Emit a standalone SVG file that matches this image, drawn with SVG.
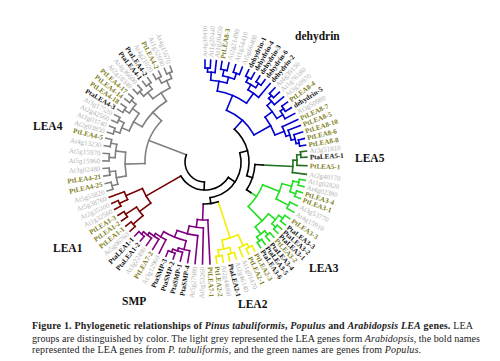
<svg xmlns="http://www.w3.org/2000/svg" width="500" height="361" viewBox="0 0 500 361">
<style>
.t line,.t circle{fill:none;stroke-width:1.6;stroke-linecap:square}
.bk{stroke:#000}.gy{stroke:#808080}.bl{stroke:#0000d0}.dg{stroke:#1f6f1f}.gn{stroke:#22e022}.yl{stroke:#f0f000}.pu{stroke:#800080}.dr{stroke:#780000}
text{font-family:"Liberation Serif","Times New Roman",serif}
.lb{font-size:7px}
.g{fill:#b4b4b4}.k{fill:#111;font-weight:bold}.o{fill:#80801c;font-weight:bold}.L{text-anchor:end}
.grp{font-size:11.5px;font-weight:bold;fill:#111}
.cap{font-size:10px;fill:#222}
</style>
<rect width="500" height="361" fill="#fff"/>
<g id="connectors" class="t" transform="translate(205 162)">
<g class="bl">
<circle r="94" pathLength="360" stroke-dasharray="3.2 400" transform="rotate(-90)"/>
<line x1="94" x2="102" transform="rotate(-90)"/><line x1="94" x2="102" transform="rotate(-86.8)"/>
<circle r="90" pathLength="360" stroke-dasharray="4.8 400" transform="rotate(-88.4)"/>
<line x1="90" x2="94" transform="rotate(-88.4)"/><line x1="90" x2="102" transform="rotate(-83.6)"/>
<circle r="94" pathLength="360" stroke-dasharray="4 400" transform="rotate(-80.4)"/>
<line x1="94" x2="102" transform="rotate(-80.4)"/><line x1="94" x2="102" transform="rotate(-76.4)"/>
<circle r="94" pathLength="360" stroke-dasharray="4 400" transform="rotate(-72.5)"/>
<line x1="94" x2="102" transform="rotate(-72.5)"/><line x1="94" x2="102" transform="rotate(-68.5)"/>
<circle r="88" pathLength="360" stroke-dasharray="7.9 400" transform="rotate(-78.4)"/>
<line x1="88" x2="94" transform="rotate(-78.4)"/><line x1="88" x2="94" transform="rotate(-70.5)"/>
<circle r="82" pathLength="360" stroke-dasharray="11.55 400" transform="rotate(-86)"/>
<line x1="82" x2="90" transform="rotate(-86)"/><line x1="82" x2="88" transform="rotate(-74.45)"/>
<circle r="95" pathLength="360" stroke-dasharray="3.6 400" transform="rotate(-64.6)"/>
<line x1="95" x2="102" transform="rotate(-64.6)"/><line x1="95" x2="102" transform="rotate(-61)"/>
<circle r="95" pathLength="360" stroke-dasharray="3.6 400" transform="rotate(-57.5)"/>
<line x1="95" x2="102" transform="rotate(-57.5)"/><line x1="95" x2="102" transform="rotate(-53.9)"/>
<circle r="90" pathLength="360" stroke-dasharray="7.1 400" transform="rotate(-62.8)"/>
<line x1="90" x2="95" transform="rotate(-62.8)"/><line x1="90" x2="95" transform="rotate(-55.7)"/>
<circle r="84" pathLength="360" stroke-dasharray="8.95 400" transform="rotate(-59.25)"/>
<line x1="84" x2="90" transform="rotate(-59.25)"/><line x1="84" x2="102" transform="rotate(-50.3)"/>
<circle r="72" pathLength="360" stroke-dasharray="25.4 400" transform="rotate(-80.2)"/>
<line x1="72" x2="82" transform="rotate(-80.2)"/><line x1="72" x2="84" transform="rotate(-54.8)"/>
<circle r="94" pathLength="360" stroke-dasharray="3.5 400" transform="rotate(-46.7)"/>
<line x1="94" x2="102" transform="rotate(-46.7)"/><line x1="94" x2="102" transform="rotate(-43.2)"/>
<circle r="90" pathLength="360" stroke-dasharray="5.35 400" transform="rotate(-44.95)"/>
<line x1="90" x2="94" transform="rotate(-44.95)"/><line x1="90" x2="102" transform="rotate(-39.6)"/>
<circle r="95" pathLength="360" stroke-dasharray="3.8 400" transform="rotate(-36)"/>
<line x1="95" x2="102" transform="rotate(-36)"/><line x1="95" x2="102" transform="rotate(-32.2)"/>
<circle r="91" pathLength="360" stroke-dasharray="5.7 400" transform="rotate(-34.1)"/>
<line x1="91" x2="95" transform="rotate(-34.1)"/><line x1="91" x2="102" transform="rotate(-28.4)"/>
<circle r="84" pathLength="360" stroke-dasharray="11.05 400" transform="rotate(-42.3)"/>
<line x1="84" x2="90" transform="rotate(-42.3)"/><line x1="84" x2="91" transform="rotate(-31.25)"/>
<circle r="96" pathLength="360" stroke-dasharray="3.8 400" transform="rotate(-13.3)"/>
<line x1="96" x2="102" transform="rotate(-13.3)"/><line x1="96" x2="102" transform="rotate(-9.5)"/>
<circle r="93" pathLength="360" stroke-dasharray="5.7 400" transform="rotate(-17.1)"/>
<line x1="93" x2="102" transform="rotate(-17.1)"/><line x1="93" x2="96" transform="rotate(-11.4)"/>
<circle r="89" pathLength="360" stroke-dasharray="6.65 400" transform="rotate(-20.9)"/>
<line x1="89" x2="102" transform="rotate(-20.9)"/><line x1="89" x2="93" transform="rotate(-14.25)"/>
<circle r="85" pathLength="360" stroke-dasharray="7 400" transform="rotate(-24.6)"/>
<line x1="85" x2="102" transform="rotate(-24.6)"/><line x1="85" x2="89" transform="rotate(-17.6)"/>
<circle r="75" pathLength="360" stroke-dasharray="15.7 400" transform="rotate(-36.8)"/>
<line x1="75" x2="84" transform="rotate(-36.8)"/><line x1="75" x2="85" transform="rotate(-21.1)"/>
<circle r="56" pathLength="360" stroke-dasharray="38.55 400" transform="rotate(-67.5)"/>
<line x1="56" x2="72" transform="rotate(-67.5)"/><line x1="56" x2="75" transform="rotate(-28.95)"/>
<line x1="44" x2="56" transform="rotate(-48.2)"/>
</g>
<g class="dg">
<circle r="96" pathLength="360" stroke-dasharray="3.4 400" transform="rotate(-6.1)"/>
<line x1="96" x2="102" transform="rotate(-6.1)"/><line x1="96" x2="102" transform="rotate(-2.7)"/>
<circle r="92" pathLength="360" stroke-dasharray="6.5 400" transform="rotate(-4.4)"/>
<line x1="92" x2="96" transform="rotate(-4.4)"/><line x1="92" x2="102" transform="rotate(2.1)"/>
<circle r="88" pathLength="360" stroke-dasharray="8.05 400" transform="rotate(-1.15)"/>
<line x1="88" x2="92" transform="rotate(-1.15)"/><line x1="88" x2="102" transform="rotate(6.9)"/>
<line x1="58" x2="88" transform="rotate(2.9)"/>
</g>
<g class="gn">
<circle r="96" pathLength="360" stroke-dasharray="3.6 400" transform="rotate(10.4)"/>
<line x1="96" x2="102" transform="rotate(10.4)"/><line x1="96" x2="102" transform="rotate(14)"/>
<circle r="96" pathLength="360" stroke-dasharray="3.5 400" transform="rotate(17.5)"/>
<line x1="96" x2="102" transform="rotate(17.5)"/><line x1="96" x2="102" transform="rotate(21)"/>
<circle r="90" pathLength="360" stroke-dasharray="7.05 400" transform="rotate(12.2)"/>
<line x1="90" x2="96" transform="rotate(12.2)"/><line x1="90" x2="96" transform="rotate(19.25)"/>
<circle r="94" pathLength="360" stroke-dasharray="4.2 400" transform="rotate(25.3)"/>
<line x1="94" x2="102" transform="rotate(25.3)"/><line x1="94" x2="102" transform="rotate(29.5)"/>
<circle r="80" pathLength="360" stroke-dasharray="11.7 400" transform="rotate(15.7)"/>
<line x1="80" x2="90" transform="rotate(15.7)"/><line x1="80" x2="94" transform="rotate(27.4)"/>
<circle r="96" pathLength="360" stroke-dasharray="4.2 400" transform="rotate(33.8)"/>
<line x1="96" x2="102" transform="rotate(33.8)"/><line x1="96" x2="102" transform="rotate(38)"/>
<circle r="96" pathLength="360" stroke-dasharray="3.1 400" transform="rotate(41.2)"/>
<line x1="96" x2="102" transform="rotate(41.2)"/><line x1="96" x2="102" transform="rotate(44.3)"/>
<circle r="91" pathLength="360" stroke-dasharray="6.85 400" transform="rotate(35.9)"/>
<line x1="91" x2="96" transform="rotate(35.9)"/><line x1="91" x2="96" transform="rotate(42.75)"/>
<circle r="96" pathLength="360" stroke-dasharray="3.2 400" transform="rotate(47.5)"/>
<line x1="96" x2="102" transform="rotate(47.5)"/><line x1="96" x2="102" transform="rotate(50.7)"/>
<circle r="96" pathLength="360" stroke-dasharray="3.2 400" transform="rotate(53.8)"/>
<line x1="96" x2="102" transform="rotate(53.8)"/><line x1="96" x2="102" transform="rotate(57)"/>
<circle r="91" pathLength="360" stroke-dasharray="6.3 400" transform="rotate(49.1)"/>
<line x1="91" x2="96" transform="rotate(49.1)"/><line x1="91" x2="96" transform="rotate(55.4)"/>
<circle r="82" pathLength="360" stroke-dasharray="12.95 400" transform="rotate(39.3)"/>
<line x1="82" x2="91" transform="rotate(39.3)"/><line x1="82" x2="91" transform="rotate(52.25)"/>
<circle r="62" pathLength="360" stroke-dasharray="24.25 400" transform="rotate(21.55)"/>
<line x1="62" x2="80" transform="rotate(21.55)"/><line x1="62" x2="82" transform="rotate(45.8)"/>
<line x1="55" x2="62" transform="rotate(33.7)"/>
</g>
<g class="yl">
<circle r="96" pathLength="360" stroke-dasharray="3.8 400" transform="rotate(60.8)"/>
<line x1="96" x2="102" transform="rotate(60.8)"/><line x1="96" x2="102" transform="rotate(64.6)"/>
<circle r="92" pathLength="360" stroke-dasharray="5.6 400" transform="rotate(62.7)"/>
<line x1="92" x2="96" transform="rotate(62.7)"/><line x1="92" x2="102" transform="rotate(68.3)"/>
<circle r="95" pathLength="360" stroke-dasharray="3.8 400" transform="rotate(72.1)"/>
<line x1="95" x2="102" transform="rotate(72.1)"/><line x1="95" x2="102" transform="rotate(75.9)"/>
<circle r="95" pathLength="360" stroke-dasharray="3.7 400" transform="rotate(79.7)"/>
<line x1="95" x2="102" transform="rotate(79.7)"/><line x1="95" x2="102" transform="rotate(83.4)"/>
<circle r="89" pathLength="360" stroke-dasharray="7.55 400" transform="rotate(74)"/>
<line x1="89" x2="95" transform="rotate(74)"/><line x1="89" x2="95" transform="rotate(81.55)"/>
<circle r="80" pathLength="360" stroke-dasharray="12.3 400" transform="rotate(65.5)"/>
<line x1="80" x2="92" transform="rotate(65.5)"/><line x1="80" x2="89" transform="rotate(77.8)"/>
<line x1="42" x2="80" transform="rotate(71.65)"/>
</g>
<g class="pu">
<circle r="96" pathLength="360" stroke-dasharray="4.2 400" transform="rotate(129.3)"/>
<line x1="96" x2="102" transform="rotate(129.3)"/><line x1="96" x2="102" transform="rotate(133.5)"/>
<circle r="93" pathLength="360" stroke-dasharray="6.3 400" transform="rotate(125.1)"/>
<line x1="93" x2="102" transform="rotate(125.1)"/><line x1="93" x2="96" transform="rotate(131.4)"/>
<circle r="90" pathLength="360" stroke-dasharray="7.35 400" transform="rotate(120.9)"/>
<line x1="90" x2="102" transform="rotate(120.9)"/><line x1="90" x2="93" transform="rotate(128.25)"/>
<circle r="87" pathLength="360" stroke-dasharray="7.9 400" transform="rotate(116.7)"/>
<line x1="87" x2="102" transform="rotate(116.7)"/><line x1="87" x2="90" transform="rotate(124.6)"/>
<circle r="96" pathLength="360" stroke-dasharray="4.3 400" transform="rotate(108.2)"/>
<line x1="96" x2="102" transform="rotate(108.2)"/><line x1="96" x2="102" transform="rotate(112.5)"/>
<circle r="93" pathLength="360" stroke-dasharray="6.35 400" transform="rotate(104)"/>
<line x1="93" x2="102" transform="rotate(104)"/><line x1="93" x2="96" transform="rotate(110.35)"/>
<circle r="90" pathLength="360" stroke-dasharray="7.4 400" transform="rotate(99.8)"/>
<line x1="90" x2="102" transform="rotate(99.8)"/><line x1="90" x2="93" transform="rotate(107.2)"/>
<circle r="81" pathLength="360" stroke-dasharray="17.15 400" transform="rotate(103.5)"/>
<line x1="81" x2="90" transform="rotate(103.5)"/><line x1="81" x2="87" transform="rotate(120.65)"/>
<circle r="74" pathLength="360" stroke-dasharray="16.5 400" transform="rotate(95.6)"/>
<line x1="74" x2="102" transform="rotate(95.6)"/><line x1="74" x2="81" transform="rotate(112.1)"/>
<circle r="66" pathLength="360" stroke-dasharray="12.45 400" transform="rotate(91.4)"/>
<line x1="66" x2="102" transform="rotate(91.4)"/><line x1="66" x2="74" transform="rotate(103.85)"/>
<circle r="58" pathLength="360" stroke-dasharray="10.4 400" transform="rotate(87.2)"/>
<line x1="58" x2="102" transform="rotate(87.2)"/><line x1="58" x2="66" transform="rotate(97.6)"/>
<line x1="42" x2="58" transform="rotate(92.4)"/>
</g>
<g class="dr">
<circle r="95" pathLength="360" stroke-dasharray="3.7 400" transform="rotate(137.3)"/>
<line x1="95" x2="102" transform="rotate(137.3)"/><line x1="95" x2="102" transform="rotate(141)"/>
<circle r="95" pathLength="360" stroke-dasharray="3.7 400" transform="rotate(144.8)"/>
<line x1="95" x2="102" transform="rotate(144.8)"/><line x1="95" x2="102" transform="rotate(148.5)"/>
<circle r="82" pathLength="360" stroke-dasharray="7.5 400" transform="rotate(139.15)"/>
<line x1="82" x2="95" transform="rotate(139.15)"/><line x1="82" x2="95" transform="rotate(146.65)"/>
<circle r="95" pathLength="360" stroke-dasharray="3.7 400" transform="rotate(152.3)"/>
<line x1="95" x2="102" transform="rotate(152.3)"/><line x1="95" x2="102" transform="rotate(156)"/>
<circle r="86" pathLength="360" stroke-dasharray="5.65 400" transform="rotate(154.15)"/>
<line x1="86" x2="95" transform="rotate(154.15)"/><line x1="86" x2="102" transform="rotate(159.8)"/>
<circle r="68" pathLength="360" stroke-dasharray="14.1 400" transform="rotate(142.9)"/>
<line x1="68" x2="82" transform="rotate(142.9)"/><line x1="68" x2="86" transform="rotate(157)"/>
<line x1="28" x2="68" transform="rotate(150)"/>
</g>
<g class="gy">
<circle r="96" pathLength="360" stroke-dasharray="4.3 400" transform="rotate(163.5)"/>
<line x1="96" x2="102" transform="rotate(163.5)"/><line x1="96" x2="102" transform="rotate(167.8)"/>
<circle r="96" pathLength="360" stroke-dasharray="4.3 400" transform="rotate(172.1)"/>
<line x1="96" x2="102" transform="rotate(172.1)"/><line x1="96" x2="102" transform="rotate(176.4)"/>
<circle r="90" pathLength="360" stroke-dasharray="8.6 400" transform="rotate(165.65)"/>
<line x1="90" x2="96" transform="rotate(165.65)"/><line x1="90" x2="96" transform="rotate(174.25)"/>
<circle r="96" pathLength="360" stroke-dasharray="4.3 400" transform="rotate(180.6)"/>
<line x1="96" x2="102" transform="rotate(180.6)"/><line x1="96" x2="102" transform="rotate(184.9)"/>
<circle r="96" pathLength="360" stroke-dasharray="4.3 400" transform="rotate(189.2)"/>
<line x1="96" x2="102" transform="rotate(189.2)"/><line x1="96" x2="102" transform="rotate(193.5)"/>
<circle r="90" pathLength="360" stroke-dasharray="8.6 400" transform="rotate(182.75)"/>
<line x1="90" x2="96" transform="rotate(182.75)"/><line x1="90" x2="96" transform="rotate(191.35)"/>
<circle r="80" pathLength="360" stroke-dasharray="17.1 400" transform="rotate(169.95)"/>
<line x1="80" x2="90" transform="rotate(169.95)"/><line x1="80" x2="90" transform="rotate(187.05)"/>
<circle r="96" pathLength="360" stroke-dasharray="3.6 400" transform="rotate(197)"/>
<line x1="96" x2="102" transform="rotate(197)"/><line x1="96" x2="102" transform="rotate(200.6)"/>
<circle r="96" pathLength="360" stroke-dasharray="3.5 400" transform="rotate(204.1)"/>
<line x1="96" x2="102" transform="rotate(204.1)"/><line x1="96" x2="102" transform="rotate(207.6)"/>
<circle r="90" pathLength="360" stroke-dasharray="7.05 400" transform="rotate(198.8)"/>
<line x1="90" x2="96" transform="rotate(198.8)"/><line x1="90" x2="96" transform="rotate(205.85)"/>
<circle r="96" pathLength="360" stroke-dasharray="3.6 400" transform="rotate(211.1)"/>
<line x1="96" x2="102" transform="rotate(211.1)"/><line x1="96" x2="102" transform="rotate(214.7)"/>
<circle r="96" pathLength="360" stroke-dasharray="3.5 400" transform="rotate(218.2)"/>
<line x1="96" x2="102" transform="rotate(218.2)"/><line x1="96" x2="102" transform="rotate(221.7)"/>
<circle r="90" pathLength="360" stroke-dasharray="7.05 400" transform="rotate(212.9)"/>
<line x1="90" x2="96" transform="rotate(212.9)"/><line x1="90" x2="96" transform="rotate(219.95)"/>
<circle r="82" pathLength="360" stroke-dasharray="14.1 400" transform="rotate(202.3)"/>
<line x1="82" x2="90" transform="rotate(202.3)"/><line x1="82" x2="90" transform="rotate(216.4)"/>
<circle r="96" pathLength="360" stroke-dasharray="3.5 400" transform="rotate(225.3)"/>
<line x1="96" x2="102" transform="rotate(225.3)"/><line x1="96" x2="102" transform="rotate(228.8)"/>
<circle r="96" pathLength="360" stroke-dasharray="3.5 400" transform="rotate(232.3)"/>
<line x1="96" x2="102" transform="rotate(232.3)"/><line x1="96" x2="102" transform="rotate(235.8)"/>
<circle r="90" pathLength="360" stroke-dasharray="7 400" transform="rotate(227.05)"/>
<line x1="90" x2="96" transform="rotate(227.05)"/><line x1="90" x2="96" transform="rotate(234.05)"/>
<circle r="96" pathLength="360" stroke-dasharray="3.5 400" transform="rotate(239.4)"/>
<line x1="96" x2="102" transform="rotate(239.4)"/><line x1="96" x2="102" transform="rotate(242.9)"/>
<circle r="96" pathLength="360" stroke-dasharray="3.5 400" transform="rotate(246.5)"/>
<line x1="96" x2="102" transform="rotate(246.5)"/><line x1="96" x2="102" transform="rotate(250)"/>
<circle r="90" pathLength="360" stroke-dasharray="7.1 400" transform="rotate(241.15)"/>
<line x1="90" x2="96" transform="rotate(241.15)"/><line x1="90" x2="96" transform="rotate(248.25)"/>
<circle r="82" pathLength="360" stroke-dasharray="14.15 400" transform="rotate(230.55)"/>
<line x1="82" x2="90" transform="rotate(230.55)"/><line x1="82" x2="90" transform="rotate(244.7)"/>
<circle r="72" pathLength="360" stroke-dasharray="28.25 400" transform="rotate(209.35)"/>
<line x1="72" x2="82" transform="rotate(209.35)"/><line x1="72" x2="82" transform="rotate(237.6)"/>
<circle r="60" pathLength="360" stroke-dasharray="45 400" transform="rotate(178.5)"/>
<line x1="60" x2="80" transform="rotate(178.5)"/><line x1="60" x2="72" transform="rotate(223.5)"/>
<line x1="20" x2="60" transform="rotate(201)"/>
</g>
<g class="bk">
<circle r="42" pathLength="360" stroke-dasharray="20.75 400" transform="rotate(71.65)"/>
<circle r="50" pathLength="360" stroke-dasharray="30.8 400" transform="rotate(2.9)"/>
<line x1="50" x2="58" transform="rotate(2.9)"/><line x1="50" x2="55" transform="rotate(33.7)"/>
<circle r="44" pathLength="360" stroke-dasharray="66.5 400" transform="rotate(-48.2)"/>
<line x1="44" x2="50" transform="rotate(18.3)"/>
<circle r="36" pathLength="360" stroke-dasharray="96.95 400" transform="rotate(-14.95)"/>
<line x1="36" x2="42" transform="rotate(82)"/><line x1="36" x2="44" transform="rotate(-14.95)"/>
<circle r="28" pathLength="360" stroke-dasharray="116.5 400" transform="rotate(33.5)"/>
<line x1="28" x2="36" transform="rotate(33.5)"/>
<circle r="20" pathLength="360" stroke-dasharray="109.25 400" transform="rotate(91.75)"/>
<line x1="20" x2="28" transform="rotate(91.75)"/>
</g>
</g>
<g id="leaves" class="lb" transform="translate(205 162)">
<g id="At4g38410" class="g"><text transform="rotate(-90)" x="105" dy=".35em">At4g38410</text></g>
<g id="At1g20440" class="g"><text transform="rotate(-86.8)" x="105" dy=".35em">At1g20440</text></g>
<g id="At1g20450" class="g"><text transform="rotate(-83.6)" x="105" dy=".35em">At1g20450</text></g>
<g id="PtLEA8-3" class="o"><text transform="rotate(-80.4)" x="105" dy=".35em">PtLEA8-3</text></g>
<g id="At2g21490" class="g"><text transform="rotate(-76.4)" x="105" dy=".35em">At2g21490</text></g>
<g id="At1g54410" class="g"><text transform="rotate(-72.5)" x="105" dy=".35em">At1g54410</text></g>
<g id="At5g66400" class="g"><text transform="rotate(-68.5)" x="105" dy=".35em">At5g66400</text></g>
<g id="dehydrin-1" class="k"><text transform="rotate(-64.6)" x="105" dy=".35em">dehydrin-1</text></g>
<g id="dehydrin-4" class="k"><text transform="rotate(-61)" x="105" dy=".35em">dehydrin-4</text></g>
<g id="dehydrin-3" class="k"><text transform="rotate(-57.5)" x="105" dy=".35em">dehydrin-3</text></g>
<g id="dehydrin-6" class="k"><text transform="rotate(-53.9)" x="105" dy=".35em">dehydrin-6</text></g>
<g id="dehydrin-2" class="k"><text transform="rotate(-50.3)" x="105" dy=".35em">dehydrin-2</text></g>
<g id="At4g39130" class="g"><text transform="rotate(-46.7)" x="105" dy=".35em">At4g39130</text></g>
<g id="At1g76180" class="g"><text transform="rotate(-43.2)" x="105" dy=".35em">At1g76180</text></g>
<g id="At3g50970" class="g"><text transform="rotate(-39.6)" x="105" dy=".35em">At3g50970</text></g>
<g id="PtLEA8-4" class="o"><text transform="rotate(-36)" x="105" dy=".35em">PtLEA8-4</text></g>
<g id="dehydrin-5" class="k"><text transform="rotate(-32.2)" x="105" dy=".35em">dehydrin-5</text></g>
<g id="At3g50980" class="g"><text transform="rotate(-28.4)" x="105" dy=".35em">At3g50980</text></g>
<g id="PtLEA8-7" class="o"><text transform="rotate(-24.6)" x="105" dy=".35em">PtLEA8-7</text></g>
<g id="PtLEA8-5" class="o"><text transform="rotate(-20.9)" x="105" dy=".35em">PtLEA8-5</text></g>
<g id="PtLEA8-10" class="o"><text transform="rotate(-17.1)" x="105" dy=".35em">PtLEA8-10</text></g>
<g id="PtLEA8-6" class="o"><text transform="rotate(-13.3)" x="105" dy=".35em">PtLEA8-6</text></g>
<g id="PtLEA8-8" class="o"><text transform="rotate(-9.5)" x="105" dy=".35em">PtLEA8-8</text></g>
<g id="At3g51810" class="g"><text transform="rotate(-6.1)" x="105" dy=".35em">At3g51810</text></g>
<g id="PtaLEA5-1" class="k"><text transform="rotate(-2.7)" x="105" dy=".35em">PtaLEA5-1</text></g>
<g id="PtLEA5-1" class="o"><text transform="rotate(2.1)" x="105" dy=".35em">PtLEA5-1</text></g>
<g id="At2g40170" class="g"><text transform="rotate(6.9)" x="105" dy=".35em">At2g40170</text></g>
<g id="At1g02820" class="g"><text transform="rotate(10.4)" x="105" dy=".35em">At1g02820</text></g>
<g id="At4g02380" class="g"><text transform="rotate(14)" x="105" dy=".35em">At4g02380</text></g>
<g id="PtLEA3-4" class="o"><text transform="rotate(17.5)" x="105" dy=".35em">PtLEA3-4</text></g>
<g id="PtLEA3-1" class="o"><text transform="rotate(21)" x="105" dy=".35em">PtLEA3-1</text></g>
<g id="At3g53770" class="g"><text transform="rotate(25.3)" x="105" dy=".35em">At3g53770</text></g>
<g id="At4g15910" class="g"><text transform="rotate(29.5)" x="105" dy=".35em">At4g15910</text></g>
<g id="PtLEA3-3" class="o"><text transform="rotate(33.8)" x="105" dy=".35em">PtLEA3-3</text></g>
<g id="PtaLEA3-3" class="k"><text transform="rotate(38)" x="105" dy=".35em">PtaLEA3-3</text></g>
<g id="PtaLEA3-2" class="k"><text transform="rotate(41.2)" x="105" dy=".35em">PtaLEA3-2</text></g>
<g id="PtaLEA3-1" class="k"><text transform="rotate(44.3)" x="105" dy=".35em">PtaLEA3-1</text></g>
<g id="PtLEA3-2" class="o"><text transform="rotate(47.5)" x="105" dy=".35em">PtLEA3-2</text></g>
<g id="PtaLEA3-4" class="k"><text transform="rotate(50.7)" x="105" dy=".35em">PtaLEA3-4</text></g>
<g id="PtaLEA3-5" class="k"><text transform="rotate(53.8)" x="105" dy=".35em">PtaLEA3-5</text></g>
<g id="PtaLEA3-6" class="k"><text transform="rotate(57)" x="105" dy=".35em">PtaLEA3-6</text></g>
<g id="PtLEA2-3" class="o"><text transform="rotate(60.8)" x="105" dy=".35em">PtLEA2-3</text></g>
<g id="PtLEA2-1" class="o"><text transform="rotate(64.6)" x="105" dy=".35em">PtLEA2-1</text></g>
<g id="At1g01470" class="g"><text transform="rotate(68.3)" x="105" dy=".35em">At1g01470</text></g>
<g id="At2g46140" class="g"><text transform="rotate(72.1)" x="105" dy=".35em">At2g46140</text></g>
<g id="PtaLEA2-1" class="k"><text transform="rotate(75.9)" x="105" dy=".35em">PtaLEA2-1</text></g>
<g id="At2g44060" class="g"><text transform="rotate(79.7)" x="105" dy=".35em">At2g44060</text></g>
<g id="PtLEA2-2" class="o"><text transform="rotate(83.4)" x="105" dy=".35em">PtLEA2-2</text></g>
<g id="PtLEA7-1" class="o"><text transform="rotate(87.2)" x="105" dy=".35em">PtLEA7-1</text></g>
<g id="At5g53260" class="g L"><text transform="rotate(-88.6)" x="-105" dy=".35em">At5g53260</text></g>
<g id="At5g27980" class="g L"><text transform="rotate(-84.4)" x="-105" dy=".35em">At5g27980</text></g>
<g id="PtaSMP-4" class="k L"><text transform="rotate(-80.2)" x="-105" dy=".35em">PtaSMP-4</text></g>
<g id="PtaSMP-1" class="k L"><text transform="rotate(-76)" x="-105" dy=".35em">PtaSMP-1</text></g>
<g id="PtaSMP-2" class="k L"><text transform="rotate(-71.8)" x="-105" dy=".35em">PtaSMP-2</text></g>
<g id="PtaSMP-3" class="k L"><text transform="rotate(-67.5)" x="-105" dy=".35em">PtaSMP-3</text></g>
<g id="At3g12960" class="g L"><text transform="rotate(-63.3)" x="-105" dy=".35em">At3g12960</text></g>
<g id="PtLEA7-2" class="o L"><text transform="rotate(-59.1)" x="-105" dy=".35em">PtLEA7-2</text></g>
<g id="At3g22490" class="g L"><text transform="rotate(-54.9)" x="-105" dy=".35em">At3g22490</text></g>
<g id="PtaLEA1-2" class="k L"><text transform="rotate(-50.7)" x="-105" dy=".35em">PtaLEA1-2</text></g>
<g id="PtaLEA1-1" class="k L"><text transform="rotate(-46.5)" x="-105" dy=".35em">PtaLEA1-1</text></g>
<g id="At5g06760" class="g L"><text transform="rotate(-42.7)" x="-105" dy=".35em">At5g06760</text></g>
<g id="PtLEA1-1" class="o L"><text transform="rotate(-39)" x="-105" dy=".35em">PtLEA1-1</text></g>
<g id="PtLEA1-2" class="o L"><text transform="rotate(-35.2)" x="-105" dy=".35em">PtLEA1-2</text></g>
<g id="PtLEA1-3" class="o L"><text transform="rotate(-31.5)" x="-105" dy=".35em">PtLEA1-3</text></g>
<g id="At1g32560" class="g L"><text transform="rotate(-27.7)" x="-105" dy=".35em">At1g32560</text></g>
<g id="At2g35300" class="g L"><text transform="rotate(-24)" x="-105" dy=".35em">At2g35300</text></g>
<g id="At5g38760" class="g L"><text transform="rotate(-20.2)" x="-105" dy=".35em">At5g38760</text></g>
<g id="At5g53820" class="g L"><text transform="rotate(-16.5)" x="-105" dy=".35em">At5g53820</text></g>
<g id="PtLEA4-25" class="o L"><text transform="rotate(-12.2)" x="-105" dy=".35em">PtLEA4-25</text></g>
<g id="PtLEA4-21" class="o L"><text transform="rotate(-7.9)" x="-105" dy=".35em">PtLEA4-21</text></g>
<g id="At3g02480" class="g L"><text transform="rotate(-3.6)" x="-105" dy=".35em">At3g02480</text></g>
<g id="At5g15960" class="g L"><text transform="rotate(0.6)" x="-105" dy=".35em">At5g15960</text></g>
<g id="At5g15970" class="g L"><text transform="rotate(4.9)" x="-105" dy=".35em">At5g15970</text></g>
<g id="At4g13230" class="g L"><text transform="rotate(9.2)" x="-105" dy=".35em">At4g13230</text></g>
<g id="PtLEA4-5" class="o L"><text transform="rotate(13.5)" x="-105" dy=".35em">PtLEA4-5</text></g>
<g id="At2g03850" class="g L"><text transform="rotate(17)" x="-105" dy=".35em">At2g03850</text></g>
<g id="At2g03740" class="g L"><text transform="rotate(20.6)" x="-105" dy=".35em">At2g03740</text></g>
<g id="At2g42560" class="g L"><text transform="rotate(24.1)" x="-105" dy=".35em">At2g42560</text></g>
<g id="At3g17520" class="g L"><text transform="rotate(27.6)" x="-105" dy=".35em">At3g17520</text></g>
<g id="PtaLEA4-3" class="k L"><text transform="rotate(31.1)" x="-105" dy=".35em">PtaLEA4-3</text></g>
<g id="PtLEA4-18" class="o L"><text transform="rotate(34.7)" x="-105" dy=".35em">PtLEA4-18</text></g>
<g id="PtLEA4-14" class="o L"><text transform="rotate(38.2)" x="-105" dy=".35em">PtLEA4-14</text></g>
<g id="PtLEA4-17" class="o L"><text transform="rotate(41.7)" x="-105" dy=".35em">PtLEA4-17</text></g>
<g id="At2g18340" class="g L"><text transform="rotate(45.3)" x="-105" dy=".35em">At2g18340</text></g>
<g id="At4g36600" class="g L"><text transform="rotate(48.8)" x="-105" dy=".35em">At4g36600</text></g>
<g id="PtaLEA4-1" class="k L"><text transform="rotate(52.3)" x="-105" dy=".35em">PtaLEA4-1</text></g>
<g id="PtaLEA4-2" class="k L"><text transform="rotate(55.8)" x="-105" dy=".35em">PtaLEA4-2</text></g>
<g id="At4g21020" class="g L"><text transform="rotate(59.4)" x="-105" dy=".35em">At4g21020</text></g>
<g id="PtLEA4-2" class="o L"><text transform="rotate(62.9)" x="-105" dy=".35em">PtLEA4-2</text></g>
<g id="At1g52690" class="g L"><text transform="rotate(66.5)" x="-105" dy=".35em">At1g52690</text></g>
<g id="At4g15670" class="g L"><text transform="rotate(70)" x="-105" dy=".35em">At4g15670</text></g>
</g>
<g id="groups" class="grp">
<text x="295" y="40">dehydrin</text>
<text x="355" y="162">LEA5</text>
<text x="309" y="272">LEA3</text>
<text x="238" y="308">LEA2</text>
<text x="122" y="305">SMP</text>
<text x="53" y="252">LEA1</text>
<text x="33" y="130">LEA4</text>
</g>
<g id="caption" class="cap">
<text x="32" y="329" textLength="441" lengthAdjust="spacing"><tspan font-weight="bold">Figure 1.  Phylogenetic relationships of </tspan><tspan font-weight="bold" font-style="italic">Pinus tabuliformis</tspan><tspan font-weight="bold">, </tspan><tspan font-weight="bold" font-style="italic">Populus</tspan><tspan font-weight="bold"> and </tspan><tspan font-weight="bold" font-style="italic">Arabidopsis LEA</tspan><tspan font-weight="bold"> genes.</tspan> LEA</text>
<text x="32" y="342" textLength="448" lengthAdjust="spacing">groups are distinguished by color. The light grey represented the LEA genes form <tspan font-style="italic">Arabidopsis</tspan>, the bold names</text>
<text x="32" y="353" textLength="389" lengthAdjust="spacing">represented the LEA genes from <tspan font-style="italic">P. tabuliformis</tspan>, and the green names are genes from <tspan font-style="italic">Populus</tspan>.</text>
</g>
</svg>
